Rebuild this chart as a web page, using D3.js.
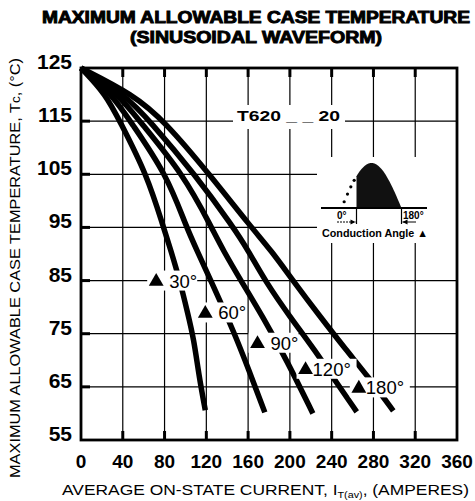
<!DOCTYPE html>
<html><head><meta charset="utf-8">
<script src="https://cdn.jsdelivr.net/npm/d3@7"></script>
<style>body{margin:0;background:#fff} svg{display:block}</style>
</head><body>
<svg id="c" width="475" height="501"></svg>
<script>
// ---------- DATA ----------
const xTicks = [0,40,80,120,160,200,240,280,320,360];
const yTicks = [55,65,75,85,95,105,115,125];
const angles = ["30°","60°","90°","120°","180°"];
const curve30  = [[0,125],[24,120],[37,115],[63,105],[79,95],[86,90.7],[95,84.7],[102,79],[108,74],[113,67],[119,60.6]];
const curve60  = [[0,125],[30,120],[47,115],[82,105],[101,95],[111,90.7],[125,84.7],[147,75.1],[161,68],[176,60.2]];
const curve90  = [[0,125],[36,120],[56,115],[98,105],[125,95],[136,90.7],[154,84.7],[174,78.2],[197,70],[222,60]];
const curve120 = [[0,125],[42,120],[66,115],[109,105],[146,95],[160,90.7],[177,84.7],[200,78.2],[224,71.9],[245,65.7],[264,60.3]];
const curve180 = [[0,125],[50,120],[80,115],[123,105],[163,95],[182,90.7],[204,84.7],[229,78.2],[254,71.9],[275,66.9],[299,60.5]];
const labelAt  = [[72,85],[119,79],[169,73.3],[215,68.4],[266,64.9]]; // triangle anchor (A, °C)

// ---------- LAYOUT ----------
const svg = d3.select("#c");
const FONT = "'Liberation Sans', Arial, Helvetica, sans-serif";
const x = d3.scaleLinear().domain([0,360]).range([81,457]);
const y = d3.scaleLinear().domain([55,125]).range([440,68]);

// grid
const grid = svg.append("g").attr("stroke","#000").attr("stroke-width",1.2);
grid.selectAll(".vg").data(xTicks.slice(1,-1)).join("line")
  .attr("x1",d=>x(d)).attr("x2",d=>x(d)).attr("y1",y(125)).attr("y2",y(55));
grid.selectAll(".hg").data(yTicks.slice(1,-1)).join("line")
  .attr("y1",d=>y(d)).attr("y2",d=>y(d)).attr("x1",x(0)).attr("x2",x(360));

// heavier short ticks on the frame
const tk = svg.append("g").attr("stroke","#000").attr("stroke-width",3);
tk.selectAll(".lt").data(yTicks.slice(1,-1)).join("line")
  .attr("x1",x(0)).attr("x2",x(0)+9).attr("y1",d=>y(d)).attr("y2",d=>y(d));
tk.selectAll(".bt").data(xTicks.slice(1,-1)).join("line")
  .attr("x1",d=>x(d)).attr("x2",d=>x(d)).attr("y1",y(55)).attr("y2",y(55)-9);
tk.selectAll(".tt").data(xTicks.slice(1,-1)).join("line")
  .attr("x1",d=>x(d)).attr("x2",d=>x(d)).attr("y1",y(125)).attr("y2",y(125)+9);

// blank areas behind the part-number label and the inset
svg.append("rect").attr("x",233).attr("y",105).attr("width",112).attr("height",24).attr("fill","#fff");
svg.append("rect").attr("x",317).attr("y",157).attr("width",139).attr("height",86).attr("fill","#fff");

// curves
const line = d3.line().x(d=>x(d[0])).y(d=>y(d[1])).curve(d3.curveBasis);
const curves = [curve30, curve60, curve90, curve120, curve180];
svg.append("g").selectAll("path").data(curves).join("path")
  .attr("d",line).attr("fill","none").attr("stroke","#000").attr("stroke-width",5.5);

// angle labels
const lab = svg.append("g").selectAll("g").data(labelAt).join("g")
  .attr("transform",d=>`translate(${x(d[0])},${y(d[1])})`);
lab.append("rect").attr("x",-9).attr("y",-10).attr("width",(d,i)=>angles[i].length>3?60:50).attr("height",20).attr("fill","#fff");
lab.append("path").attr("d",d3.symbol(d3.symbolTriangle,95)()).attr("transform","translate(0,1)").attr("fill","#000");
lab.append("text").attr("x",(d,i)=>angles[i].length>3?7:13).attr("y",7)
  .attr("font-family",FONT).attr("font-size",18.5).text((d,i)=>angles[i]);

// frame
svg.append("rect").attr("x",x(0)).attr("y",y(125)).attr("width",x(360)-x(0)).attr("height",y(55)-y(125))
  .attr("fill","none").attr("stroke","#000").attr("stroke-width",2.8);

// axis tick labels
svg.append("g").selectAll("text").data(yTicks).join("text")
  .attr("x",72).attr("y",d=>y(d)+1).attr("text-anchor","end")
  .attr("font-family",FONT).attr("font-weight","bold").attr("font-size",21).text(d=>d);
svg.append("g").selectAll("text").data(xTicks).join("text")
  .attr("x",d=>x(d)).attr("y",468).attr("text-anchor","middle")
  .attr("font-family",FONT).attr("font-weight","bold").attr("font-size",19).text(d=>d);

// titles
const t = svg.append("g").attr("font-family",FONT).attr("font-weight","bold").attr("text-anchor","middle")
  .attr("stroke","#000").attr("stroke-width",0.9);
t.append("text").attr("x",256).attr("y",23).attr("font-size",16).attr("textLength",428).attr("lengthAdjust","spacingAndGlyphs")
  .text("MAXIMUM ALLOWABLE CASE TEMPERATURE");
t.append("text").attr("x",256).attr("y",43).attr("font-size",16).attr("textLength",252).attr("lengthAdjust","spacingAndGlyphs")
  .text("(SINUSOIDAL WAVEFORM)");

// x axis title
const xt = svg.append("text").attr("x",62).attr("y",495).attr("font-family",FONT).attr("font-size",14.5)
  .attr("textLength",407).attr("lengthAdjust","spacingAndGlyphs");
xt.append("tspan").text("AVERAGE ON-STATE CURRENT, I");
xt.append("tspan").attr("font-size",9).attr("dy",3).text("T(av)");
xt.append("tspan").attr("dy",-3).text(", (AMPERES)");

// y axis title
const yt = svg.append("text").attr("transform","translate(20,268) rotate(-90)").attr("text-anchor","middle")
  .attr("font-family",FONT).attr("font-size",14.5).attr("textLength",420).attr("lengthAdjust","spacingAndGlyphs");
yt.append("tspan").text("MAXIMUM ALLOWABLE CASE TEMPERATURE, T");
yt.append("tspan").attr("font-size",12).text("c");
yt.append("tspan").text(", (°C)");

// part number
svg.append("text").attr("x",237).attr("y",121).attr("font-family",FONT).attr("font-weight","bold").attr("font-size",15)
  .attr("textLength",103).attr("lengthAdjust","spacingAndGlyphs").text("T620 _ _ 20");

// ---------- INSET (schematic conduction-angle icon) ----------
const ins = svg.append("g");
const ax = d3.scaleLinear().domain([0,180]).range([341.5,401.5]);
const ay = d3.scaleLinear().domain([0,1]).range([208,163]);
const fillPts = d3.range(45,181,3).map(a=>[a,Math.sin(a*Math.PI/180)]);
const area = d3.area().x(d=>ax(d[0])).y0(ay(0)).y1(d=>ay(d[1]));
ins.append("path").attr("d",area([[45,0],...fillPts])).attr("fill","#111");
ins.selectAll("circle").data([8,18,28,38]).join("circle")
  .attr("cx",d=>ax(d)).attr("cy",d=>ay(Math.sin(d*Math.PI/180))).attr("r",1.6).attr("fill","#000");
ins.append("line").attr("x1",321).attr("x2",427).attr("y1",208).attr("y2",208).attr("stroke","#000").attr("stroke-width",2);
ins.append("line").attr("x1",ax(45)).attr("x2",ax(45)).attr("y1",208).attr("y2",224).attr("stroke","#000").attr("stroke-width",1.2);
ins.append("line").attr("x1",ax(180)).attr("x2",ax(180)).attr("y1",208).attr("y2",224).attr("stroke","#000").attr("stroke-width",1.2);
ins.append("line").attr("x1",337).attr("x2",ax(45)-1).attr("y1",222).attr("y2",222).attr("stroke","#000").attr("stroke-width",1).attr("stroke-dasharray","2,1");
ins.append("path").attr("d",`M${ax(45)-1},222 l-5,-2.5 l0,5 z`).attr("fill","#000");
ins.append("line").attr("x1",ax(180)+1).attr("x2",416).attr("y1",222).attr("y2",222).attr("stroke","#000").attr("stroke-width",1);
ins.append("path").attr("d",`M${ax(180)+1},222 l5,-2.5 l0,5 z`).attr("fill","#000");
ins.append("text").attr("x",337).attr("y",219).attr("font-family",FONT).attr("font-weight","bold").attr("font-size",10).text("0°");
ins.append("text").attr("x",403).attr("y",219).attr("font-family",FONT).attr("font-weight","bold").attr("font-size",10).text("180°");
ins.append("text").attr("x",322).attr("y",237).attr("font-family",FONT).attr("font-weight","bold").attr("font-size",11)
  .attr("textLength",106).attr("lengthAdjust","spacingAndGlyphs").text("Conduction Angle ▲");
</script>
</body></html>
